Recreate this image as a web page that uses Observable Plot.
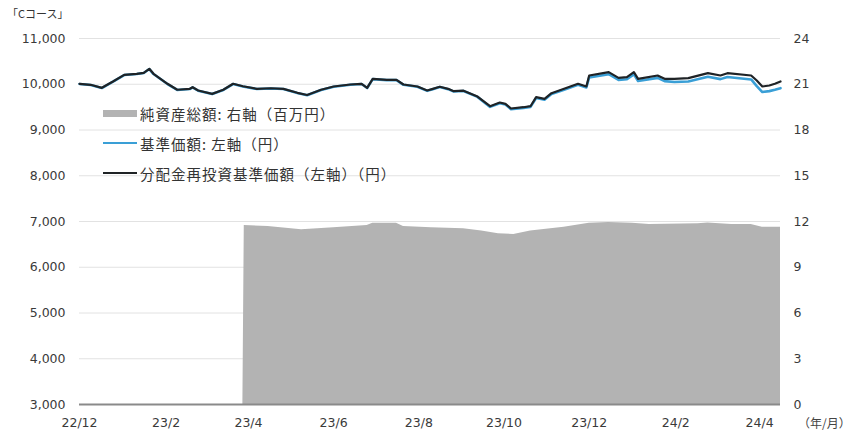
<!DOCTYPE html>
<html>
<head>
<meta charset="utf-8">
<script src="https://cdn.jsdelivr.net/npm/d3@7"></script>
<script src="https://cdn.jsdelivr.net/npm/@observablehq/plot@0.6"></script>
<style>
  body { margin: 0; background: #fff; font-family: "Noto Sans CJK JP", "Noto Sans", sans-serif; }
  #wrap { position: relative; width: 854px; height: 435px; }
  #title { position: absolute; left: 7px; top: 5px; font-size: 11px; color: #333; }
  #unit { position: absolute; left: 798px; top: 414px; font-size: 12px; color: #444; }
  #legend { position: absolute; left: 103px; top: 98px; font-size: 14.5px; letter-spacing: 1px; color: #333; }
  .row { display: flex; align-items: center; height: 30px; }
  .sw { width: 34px; margin-right: 3px; }
</style>
</head>
<body>
<div id="wrap">
  <div id="chart"></div>
  <div id="title">「Cコース」</div>
  <div id="unit">（年/月）</div>
  <div id="legend"></div>
</div>
<script>
const dates = ["2022-12-01","2022-12-09","2022-12-17","2022-12-25","2023-01-02","2023-01-11","2023-01-16","2023-01-20","2023-01-23","2023-02-02","2023-02-09","2023-02-18","2023-02-20","2023-02-24","2023-03-06","2023-03-14","2023-03-21","2023-03-28","2023-04-07","2023-04-17","2023-04-26","2023-05-06","2023-05-13","2023-05-23","2023-06-01","2023-06-13","2023-06-21","2023-06-25","2023-06-29","2023-07-09","2023-07-16","2023-07-21","2023-07-31","2023-08-07","2023-08-11","2023-08-16","2023-08-22","2023-08-26","2023-09-02","2023-09-12","2023-09-21","2023-09-28","2023-10-02","2023-10-06","2023-10-15","2023-10-20","2023-10-24","2023-10-30","2023-11-04","2023-11-13","2023-11-23","2023-11-29","2023-12-01","2023-12-15","2023-12-22","2023-12-28","2024-01-02","2024-01-05","2024-01-19","2024-01-24","2024-01-31","2024-02-10","2024-02-24","2024-03-04","2024-03-09","2024-03-26","2024-03-30","2024-04-03","2024-04-08","2024-04-12","2024-04-16"];

// 分配金再投資基準価額（左軸・円）
const reinvestNav = [10010,9988,9922,10060,10206,10228,10250,10337,10228,10010,9880,9900,9935,9863,9790,9880,10010,9957,9900,9913,9900,9813,9765,9880,9951,9995,10010,9922,10119,10097,10097,9995,9951,9863,9900,9945,9900,9848,9860,9732,9520,9600,9572,9470,9498,9520,9717,9680,9804,9900,10010,9951,10191,10264,10140,10155,10264,10119,10191,10119,10119,10133,10242,10191,10242,10191,10082,9951,9973,10010,10060];

// 基準価額（左軸・円）
const nav = [10005,9983,9917,10055,10201,10223,10245,10332,10223,10005,9875,9895,9930,9858,9785,9875,10005,9952,9895,9908,9895,9808,9760,9875,9946,9990,10005,9917,10112,10090,10090,9988,9944,9856,9893,9938,9893,9840,9852,9724,9505,9585,9557,9455,9483,9505,9700,9663,9787,9882,9990,9931,10150,10220,10095,10110,10215,10072,10140,10068,10048,10060,10165,10112,10160,10105,9960,9830,9850,9880,9915];

// 純資産総額（右軸・百万円）
const assetDates = ["2022-12-01","2023-03-28","2023-03-29","2023-04-15","2023-05-09","2023-06-01","2023-06-25","2023-06-29","2023-07-16","2023-07-21","2023-08-10","2023-09-02","2023-09-15","2023-09-27","2023-10-08","2023-10-20","2023-11-13","2023-12-01","2023-12-15","2024-01-01","2024-01-13","2024-02-17","2024-02-24","2024-03-12","2024-03-26","2024-04-03","2024-04-16"];
const netAssets = [0,0,11.74,11.67,11.46,11.59,11.74,11.89,11.89,11.67,11.59,11.52,11.37,11.19,11.15,11.37,11.63,11.89,11.93,11.89,11.80,11.85,11.90,11.80,11.80,11.63,11.63];

const leftTicks = [3000,4000,5000,6000,7000,8000,9000,10000,11000];
const rightTicks = [0,3,6,9,12,15,18,21,24];
const xTickDates = ["2022-12-01","2023-02-01","2023-04-01","2023-06-01","2023-08-01","2023-10-01","2023-12-01","2024-02-01","2024-04-01"];
const xTickLabels = ["22/12","23/2","23/4","23/6","23/8","23/10","23/12","24/2","24/4"];

const legendItems = [
  {label: "純資産総額: 右軸（百万円）", kind: "area", color: "#b3b3b3"},
  {label: "基準価額: 左軸（円）", kind: "line", color: "#3a9fd6"},
  {label: "分配金再投資基準価額（左軸）（円）", kind: "line", color: "#1f2326"}
];

const parse = d3.utcParse("%Y-%m-%d");
const lineData = dates.map((d, i) => ({date: parse(d), reinvest: reinvestNav[i], nav: nav[i]}));
const areaData = assetDates.map((d, i) => ({date: parse(d), v: netAssets[i]}));
// right axis maps 0..24 onto the left 3000..11000 range
const toLeft = v => 3000 + v * (8000 / 24);
const xTicks = xTickDates.map(parse);
const fmt = d3.format(",");

const chart = Plot.plot({
  width: 854,
  height: 435,
  marginLeft: 79,
  marginRight: 74,
  marginTop: 38,
  marginBottom: 31,
  style: {fontFamily: "'DejaVu Sans', sans-serif", fontSize: "12.5px", color: "#3a3a3a", background: "#fff"},
  x: {type: "utc", domain: [parse("2022-12-01"), parse("2024-04-16")]},
  y: {domain: [3000, 11000]},
  marks: [
    Plot.ruleY(leftTicks.slice(1), {stroke: "#e2e2e2", strokeWidth: 1}),
    Plot.areaY(areaData, {x: "date", y1: 3000, y2: d => toLeft(d.v), fill: "#b3b3b3"}),
    Plot.ruleY([3000], {stroke: "#8a8a8a", strokeWidth: 2}),
    Plot.lineY(lineData, {x: "date", y: "nav", stroke: "#3a9fd6", strokeWidth: 2.6}),
    Plot.lineY(lineData, {x: "date", y: "reinvest", stroke: "#1f2326", strokeWidth: 2.2}),
    Plot.axisY(leftTicks, {anchor: "left", tickSize: 0, tickPadding: 14, tickFormat: fmt, label: null, fontSize: 12.5}),
    Plot.axisY(rightTicks.map(toLeft), {anchor: "right", tickSize: 0, tickPadding: 13, tickFormat: (d, i) => String(rightTicks[i]), label: null, fontSize: 12.5}),
    Plot.axisX(xTicks, {anchor: "bottom", tickSize: 0, tickPadding: 14, tickFormat: (d, i) => xTickLabels[i], label: null, fontSize: 12.5})
  ]
});
document.getElementById("chart").appendChild(chart);

const legend = document.getElementById("legend");
for (const item of legendItems) {
  const row = document.createElement("div");
  row.className = "row";
  const sw = document.createElement("div");
  sw.className = "sw";
  sw.style.height = item.kind === "area" ? "7px" : "2.5px";
  sw.style.background = item.color;
  const t = document.createElement("span");
  t.textContent = item.label;
  row.appendChild(sw);
  row.appendChild(t);
  legend.appendChild(row);
}
</script>
</body>
</html>
